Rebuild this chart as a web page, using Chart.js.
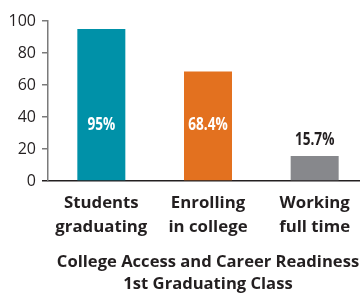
<!DOCTYPE html>
<html>
<head>
<meta charset="utf-8">
<script src="https://cdn.jsdelivr.net/npm/chart.js@4"></script>
<style>
  html, body { margin: 0; padding: 0; background: #fff; overflow: hidden; }
  #wrap { width: 360px; height: 295px; overflow: hidden; }
</style>
</head>
<body>
<div id="wrap"><canvas id="readinessChart" width="368" height="295"></canvas></div>
<script>
// data
const categories = [["Students", "graduating"], ["Enrolling", "in college"], ["Working", "full time"]];
const values = [95, 68.4, 15.7];
const valueLabels = ["95%", "68.4%", "15.7%"];
const barColors = ["#0091a8", "#e3711f", "#87888c"];
const titleLines = ["College Access and Career Readiness", "1st Graduating Class"];
const yTicks = [0, 20, 40, 60, 80, 100];

const textColor = "#231f20";

// draws the percent labels on / above the bars
const valueLabelPlugin = {
    id: "valueLabels",
    afterDatasetsDraw(chart) {
        let ctx = chart.ctx;
        let yScale = chart.scales.y;
        let bars = chart.getDatasetMeta(0).data;
        ctx.save();
        ctx.font = "bold 17px 'Open Sans'";
        ctx.textAlign = "center";
        ctx.textBaseline = "middle";
        for (let i = 0; i < bars.length; i++) {
            let bar = bars[i];
            let x = bar.x;
            let y;
            if (values[i] > 30) {
                ctx.fillStyle = "#ffffff";
                y = yScale.getPixelForValue(35);
            } else {
                ctx.fillStyle = textColor;
                y = bar.y - 16;
            }
            ctx.save();
            ctx.translate(x, y);
            ctx.scale(0.8, 1);
            ctx.fillText(valueLabels[i], 0, 0);
            ctx.restore();
        }
        ctx.restore();
    }
};

new Chart(document.getElementById("readinessChart"), {
    type: "bar",
    data: {
        labels: categories,
        datasets: [{
            data: values,
            backgroundColor: barColors,
            borderWidth: 0,
            categoryPercentage: 1,
            barPercentage: 0.45
        }]
    },
    options: {
        responsive: false,
        devicePixelRatio: 1,
        animation: false,
        layout: { padding: { top: 21, left: 0, right: 0, bottom: 0 } },
        plugins: {
            legend: { display: false },
            tooltip: { enabled: false }
        },
        scales: {
            x: {
                grid: { display: false, drawTicks: false },
                border: { display: true, color: textColor, width: 1.5 },
                ticks: {
                    color: textColor,
                    padding: 11,
                    font: { family: "'Open Sans'", size: 16.8, weight: "bold", lineHeight: 1.38 }
                },
                title: {
                    display: true,
                    text: titleLines,
                    color: textColor,
                    padding: { top: 0, bottom: 0 },
                    font: { family: "'Open Sans'", size: 16.6, weight: "bold", lineHeight: 1.33 }
                },
                afterFit(scale) { scale.height = 114; }
            },
            y: {
                min: 0,
                max: 100,
                afterBuildTicks(scale) { scale.ticks = yTicks.map(v => ({ value: v })); },
                grid: {
                    drawOnChartArea: false,
                    drawTicks: true,
                    tickLength: 6,
                    lineWidth: 1.5,
                    color: ctx => ctx.tick && ctx.tick.value === 0 ? textColor : "#7a7a7a"
                },
                border: { display: true, color: "#7a7a7a", width: 1.5 },
                ticks: {
                    color: textColor,
                    padding: 6,
                    font: { family: "'Open Sans'", size: 16 }
                },
                afterFit(scale) { scale.width = 48; }
            }
        }
    },
    plugins: [valueLabelPlugin]
});
</script>
</body>
</html>
